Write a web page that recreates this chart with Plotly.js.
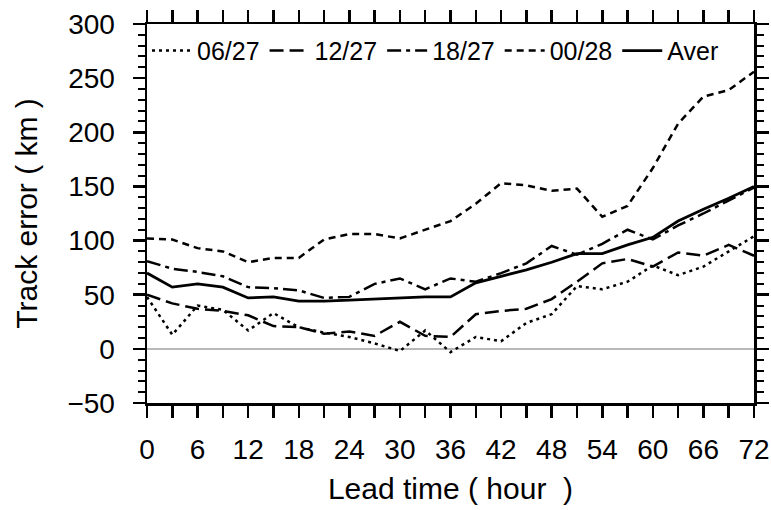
<!DOCTYPE html>
<html>
<head>
<meta charset="utf-8">
<script src="https://cdn.plot.ly/plotly-3.0.1.min.js"></script>
<style>html,body{margin:0;padding:0;background:#fff;}#chart{width:771px;height:510px;}</style>
</head>
<body>
<div id="chart"></div>
<script>
const leadHours = [0,3,6,9,12,15,18,21,24,27,30,33,36,39,42,45,48,51,54,57,60,63,66,69,72];
const xTickVals = [0,3,6,9,12,15,18,21,24,27,30,33,36,39,42,45,48,51,54,57,60,63,66,69,72];
const xTickText = ['0','','6','','12','','18','','24','','30','','36','','42','','48','','54','','60','','66','','72'];
const seriesNames = ['06/27','12/27','18/27','00/28','Aver'];
const err0627 = [48,13,40,36,17,33,20,15,11,5,-2,17,-3,11,7,24,32,58,55,62,77,68,76,90,104];
const err1227 = [50,42,37,35,31,21,20,14,16,12,25,12,11,32,35,37,46,62,79,83,76,89,86,96,86];
const err1827 = [81,74,71,67,57,56,54,47,48,60,65,55,65,62,70,79,95,87,97,110,101,114,125,137,149];
const err0028 = [102,101,93,90,80,84,84,101,106,106,102,110,118,134,153,151,146,148,122,132,167,208,233,239,256];
const errAver = [70,57,60,57,47,48,44,44,45,46,47,48,48,61,67,73,80,88,88,96,103,118,129,139,150];

const allSeries = [err0627, err1227, err1827, err0028, errAver];
const dashes = ['3px,4px','14px,6px','14px,5px,4px,5px','7px,5px','solid'];
const widths = [2.5,2.5,2.5,2.5,2.8];

const FONT = 'Liberation Sans, Arial, Helvetica, sans-serif';

const traces = allSeries.map((s,i)=>({
  x: leadHours, y: s, name: seriesNames[i], type:'scatter', mode:'lines',
  line:{color:'#000', width:widths[i], dash:dashes[i]}
}));
// mirror axes (top / right) carrier
traces.push({x:[], y:[], xaxis:'x2', yaxis:'y2', showlegend:false, hoverinfo:'skip', type:'scatter', mode:'lines'});

const layout = {
  width:771, height:510,
  margin:{l:147, r:17, t:23.5, b:107.3, pad:0},
  paper_bgcolor:'#fff', plot_bgcolor:'#fff',
  font:{family:FONT, color:'#000', size:28},
  showlegend:true,
  legend:{orientation:'h', x:0.0, xanchor:'left', y:0.99, yanchor:'top',
    bgcolor:'rgba(0,0,0,0)', borderwidth:0, font:{family:FONT,size:25,color:'#000'},
    itemwidth:40, tracegroupgap:0},
  xaxis:{range:[0,72], tickmode:'array', tickvals:xTickVals, ticktext:xTickText,
    ticks:'outside', ticklen:12, tickwidth:2.5, tickcolor:'#000',
    showline:true, linewidth:2.5, linecolor:'#000', showgrid:false, zeroline:false,
    tickfont:{family:FONT,size:28}, ticklabelstandoff:8,
    title:{text:'Lead time ( hour  )', font:{family:FONT,size:30}, standoff:14}},
  yaxis:{range:[-50,300], tickmode:'linear', tick0:0, dtick:50,
    ticks:'outside', ticklen:12, tickwidth:2.5, tickcolor:'#000',
    minor:{dtick:10, ticks:'outside', ticklen:7, tickwidth:2, tickcolor:'#000', showgrid:false},
    showline:true, linewidth:2.5, linecolor:'#000', showgrid:false,
    zeroline:true, zerolinecolor:'#b8b8b8', zerolinewidth:2,
    tickfont:{family:FONT,size:28}, ticklabelstandoff:12,
    title:{text:'Track error ( km )', font:{family:FONT,size:30}, standoff:21}},
  xaxis2:{overlaying:'x', side:'top', range:[0,72], tickmode:'array', tickvals:xTickVals,
    ticks:'outside', ticklen:12, tickwidth:2.5, tickcolor:'#000', showticklabels:false,
    showline:true, linewidth:2.5, linecolor:'#000', showgrid:false, zeroline:false},
  yaxis2:{overlaying:'y', side:'right', range:[-50,300], tickmode:'linear', tick0:0, dtick:50,
    ticks:'outside', ticklen:12, tickwidth:2.5, tickcolor:'#000', showticklabels:false,
    minor:{dtick:10, ticks:'outside', ticklen:7, tickwidth:2, tickcolor:'#000', showgrid:false},
    showline:true, linewidth:2.5, linecolor:'#000', showgrid:false, zeroline:false}
};

Plotly.newPlot('chart', traces, layout, {staticPlot:true, displayModeBar:false});
</script>
</body>
</html>
